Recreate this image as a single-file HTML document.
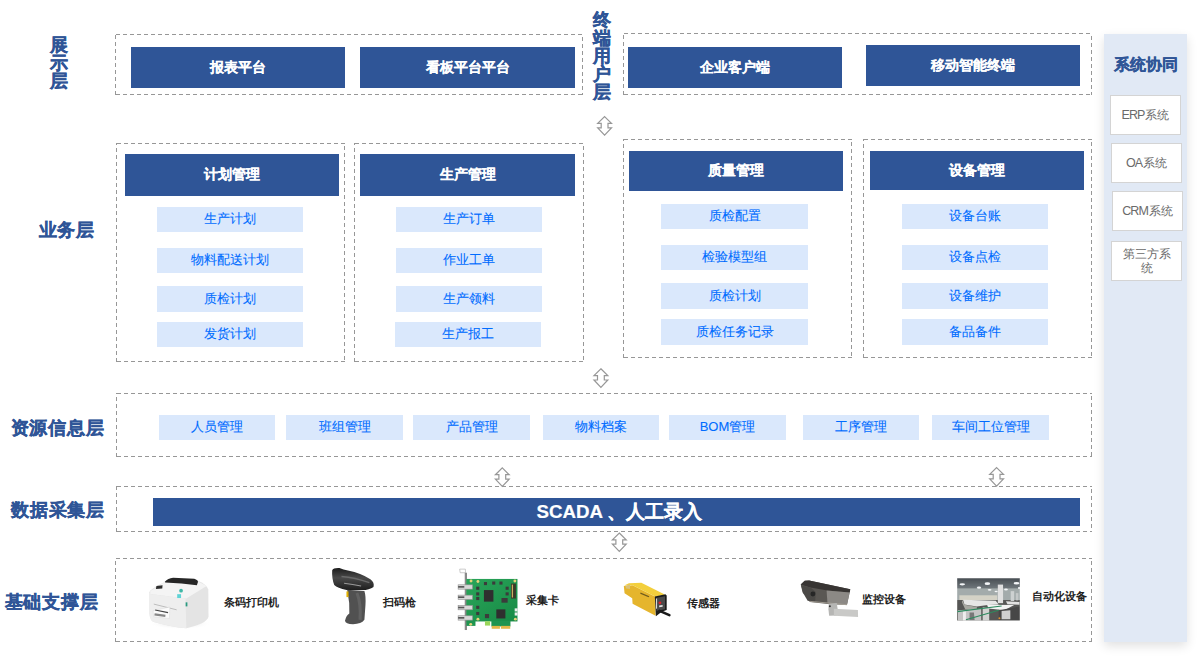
<!DOCTYPE html>
<html><head><meta charset="utf-8">
<style>
html,body{margin:0;padding:0;background:#fff;}
body{width:1203px;height:659px;position:relative;overflow:hidden;font-family:"Liberation Sans",sans-serif;}
div{box-sizing:border-box;}
.a{position:absolute;}
.lbl{position:absolute;color:#2F5597;font-weight:bold;font-size:18px;letter-spacing:0.8px;-webkit-text-stroke:0.35px #2F5597;line-height:19px;white-space:nowrap;}
.vl{position:absolute;color:#2F5597;font-weight:bold;font-size:18px;letter-spacing:0.8px;-webkit-text-stroke:0.35px #2F5597;line-height:18px;width:20px;text-align:center;}
.b{position:absolute;background:#2F5597;color:#fff;font-weight:bold;font-size:14px;-webkit-text-stroke:0.12px #fff;display:flex;align-items:center;justify-content:center;white-space:nowrap;}
.l{position:absolute;padding-bottom:1px;background:#DAE8FC;color:#006CFF;font-size:13px;-webkit-text-stroke:0.1px #006CFF;display:flex;align-items:center;justify-content:center;white-space:nowrap;}
.s{position:absolute;background:#fff;border:1px solid #d4d4d4;color:#6a6a6a;font-size:12px;display:flex;align-items:center;justify-content:center;text-align:center;line-height:14px;}
.t{position:absolute;color:#222;font-weight:bold;font-size:11px;line-height:11px;white-space:nowrap;}
.la{letter-spacing:-0.9px;margin-right:0.9px;font-size:12.5px;}
svg.ar{position:absolute;width:18px;height:22px;overflow:visible;}
</style></head><body>

<svg class="a" style="left:0;top:0;" width="1203" height="659" viewBox="0 0 1203 659">
<defs><path id="arw" d="M0,0.8 L6.9,7.6 L3.4,7.6 L3.4,12 L6.9,12 L0,19.3 L-6.9,12 L-3.4,12 L-3.4,7.6 L-6.9,7.6 Z" fill="none" stroke="#979797" stroke-width="1.2" stroke-linejoin="miter"/></defs>
<g fill="none" stroke="#979797" stroke-width="1" stroke-dasharray="4 3">
<path d="M116,34.5H583M116,94.5H583M115.5,95V34M582.5,37V95M624,33.5H1092M624,94.5H1092M623.5,95V33M1091.5,36V95M117,143.5H345M117,361.5H345M116.5,362V143M344.5,146V362M355,143.5H584M355,361.5H584M354.5,362V143M583.5,146V362M624,139.5H852M624,357.5H852M623.5,358V139M851.5,142V358M864,139.5H1092M864,357.5H1092M863.5,358V139M1091.5,142V358M117,393.5H1092M117,456.5H1092M116.5,457V393M1091.5,396V457M117,486.5H1092M117,531.5H1092M116.5,532V486M1091.5,489V532M116,558.5H1092M116,641.5H1092M115.5,642V558M1091.5,561V642"/>
</g>
<use href="#arw" x="604.6" y="115.8"/>
<use href="#arw" x="600.9" y="368.0"/>
<use href="#arw" x="502.3" y="467.1"/>
<use href="#arw" x="996.6" y="466.8"/>
<use href="#arw" x="619.3" y="532.2"/>
</svg>

<!-- labels -->
<div class="vl" style="left:49px;top:36px;">展<br>示<br>层</div>
<div class="vl" style="left:592px;top:11px;">终<br>端<br>用<br>户<br>层</div>
<div class="lbl" style="left:38.5px;top:221px;">业务层</div>
<div class="lbl" style="left:10.5px;top:419px;">资源信息层</div>
<div class="lbl" style="left:11px;top:501px;">数据采集层</div>
<div class="lbl" style="left:4.5px;top:593px;">基础支撑层</div>

<!-- presentation layer -->
<div class="b" style="left:131px;top:47px;width:214px;height:41px;">报表平台</div>
<div class="b" style="left:360px;top:47px;width:215px;height:41px;">看板平台平台</div>
<div class="b" style="left:628px;top:47px;width:214px;height:41px;">企业客户端</div>
<div class="b" style="left:866px;top:45px;width:214px;height:41px;">移动智能终端</div>

<!-- business layer -->

<div class="b" style="left:125px;top:154px;width:214px;height:42px;">计划管理</div>
<div class="b" style="left:360px;top:154px;width:215px;height:42px;">生产管理</div>
<div class="b" style="left:629px;top:151px;width:214px;height:40px;">质量管理</div>
<div class="b" style="left:870px;top:151px;width:214px;height:39px;">设备管理</div>

<div class="l" style="left:157px;top:207px;width:146px;height:25px;">生产计划</div>
<div class="l" style="left:157px;top:248px;width:146px;height:25px;">物料配送计划</div>
<div class="l" style="left:157px;top:286px;width:146px;height:26px;">质检计划</div>
<div class="l" style="left:157px;top:322px;width:146px;height:25px;">发货计划</div>

<div class="l" style="left:396px;top:207px;width:146px;height:25px;">生产订单</div>
<div class="l" style="left:396px;top:248px;width:146px;height:25px;">作业工单</div>
<div class="l" style="left:396px;top:286px;width:146px;height:26px;">生产领料</div>
<div class="l" style="left:395px;top:322px;width:146px;height:25px;">生产报工</div>

<div class="l" style="left:661px;top:204px;width:147px;height:25px;">质检配置</div>
<div class="l" style="left:661px;top:245px;width:147px;height:25px;">检验模型组</div>
<div class="l" style="left:661px;top:283px;width:147px;height:26px;">质检计划</div>
<div class="l" style="left:661px;top:319px;width:147px;height:26px;">质检任务记录</div>

<div class="l" style="left:902px;top:204px;width:146px;height:25px;">设备台账</div>
<div class="l" style="left:902px;top:245px;width:146px;height:25px;">设备点检</div>
<div class="l" style="left:902px;top:283px;width:146px;height:26px;">设备维护</div>
<div class="l" style="left:902px;top:319px;width:146px;height:26px;">备品备件</div>

<!-- resource layer -->
<div class="l" style="left:159px;top:415px;width:116px;height:25px;">人员管理</div>
<div class="l" style="left:286px;top:415px;width:117px;height:25px;">班组管理</div>
<div class="l" style="left:413px;top:415px;width:117px;height:25px;">产品管理</div>
<div class="l" style="left:543px;top:415px;width:116px;height:25px;">物料档案</div>
<div class="l" style="left:669px;top:415px;width:117px;height:25px;">BOM管理</div>
<div class="l" style="left:803px;top:415px;width:116px;height:25px;">工序管理</div>
<div class="l" style="left:932px;top:415px;width:117px;height:25px;">车间工位管理</div>

<!-- data collection layer -->
<div class="b" style="left:153px;top:498px;width:927px;height:28px;font-size:18.7px;padding-left:6px;-webkit-text-stroke:0.2px #fff;">SCADA 、人工录入</div>

<!-- foundation layer -->
<div class="t" style="left:224px;top:597px;">条码打印机</div>
<div class="t" style="left:383px;top:597px;">扫码枪</div>
<div class="t" style="left:526px;top:595px;">采集卡</div>
<div class="t" style="left:687px;top:598px;">传感器</div>
<div class="t" style="left:862px;top:594px;">监控设备</div>
<div class="t" style="left:1032px;top:591px;">自动化设备</div>

<svg class="a" style="left:0;top:0;" width="1203" height="659" viewBox="0 0 1203 659">
<defs>
<linearGradient id="pcb" x1="0" y1="0" x2="1" y2="1"><stop offset="0" stop-color="#2aa55a"/><stop offset="1" stop-color="#178a45"/></linearGradient>
<linearGradient id="ceil" x1="0" y1="0" x2="0" y2="1"><stop offset="0" stop-color="#3f454b"/><stop offset="1" stop-color="#7b8286"/></linearGradient>
<linearGradient id="scanh" x1="0" y1="0" x2="0" y2="1"><stop offset="0" stop-color="#1c1c1c"/><stop offset="0.45" stop-color="#4a4a4a"/><stop offset="1" stop-color="#1e1e1e"/></linearGradient>
<filter id="phb" x="-5%" y="-5%" width="110%" height="110%"><feGaussianBlur stdDeviation="9"/></filter>
<radialGradient id="psh" cx="0.5" cy="0.5" r="0.5"><stop offset="0" stop-color="#d8d8d8"/><stop offset="1" stop-color="#ffffff" stop-opacity="0"/></radialGradient>
</defs>
<!-- printer -->
<g transform="translate(145,572) scale(0.08795)">
<ellipse cx="400" cy="590" rx="360" ry="60" fill="url(#psh)"/>
<path d="M50,230 Q60,190 230,110 L600,100 Q700,140 720,200 L722,510 Q700,590 470,640 Q300,625 90,565 Q55,540 50,470 Z" fill="#e4e4e4"/>
<path d="M60,215 L230,110 L600,105 L700,160 L470,300 L60,250 Z" fill="#f4f4f4"/>
<path d="M50,250 L460,300 L470,640 Q300,625 90,565 Q55,540 50,470 Z" fill="#eeeeee"/>
<path d="M225,112 Q260,70 320,66 L560,78 Q605,92 602,115 L590,152 Q420,122 230,118 Z" fill="#262626"/>
<path d="M100,365 L360,430" stroke="#a8a8a8" stroke-width="8"/>
<path d="M92,440 L282,398 L278,528 L98,508 Z" fill="#fbfbfb" stroke="#cfcfcf" stroke-width="4"/>
<path d="M115,432 L262,462" stroke="#444" stroke-width="14"/>
<path d="M108,482 L232,500" stroke="#888" stroke-width="26"/>
<path d="M130,160 L200,150 L196,188 L124,192 Z" fill="#2e2e2e"/>
<circle cx="410" cy="212" r="21" fill="#3fb7a6"/>
<rect x="366" y="252" width="44" height="44" fill="#5fd3d6"/>
<rect x="462" y="345" width="20" height="46" fill="#2a9a80"/>
</g>
<!-- scanner -->
<g transform="translate(326,562) scale(0.10325)">
<path d="M60,80 Q70,55 130,58 L170,72 Q350,108 430,168 Q472,200 460,242 Q420,272 350,272 L200,272 Q110,252 80,222 Q55,160 60,80 Z" fill="url(#scanh)"/>
<path d="M150,140 Q280,150 420,200" stroke="#6a6a6a" stroke-width="14" fill="none"/>
<path d="M175,205 Q260,215 340,232" stroke="#9a9a9a" stroke-width="10" fill="none"/>
<path d="M205,268 L372,280 Q388,330 382,420 L372,560 Q342,602 262,602 Q188,598 184,568 Q195,518 226,498 Q232,400 210,300 Z" fill="#515151"/>
<path d="M300,300 Q340,400 330,560" stroke="#626262" stroke-width="30" fill="none"/>
<rect x="198" y="285" width="20" height="55" fill="#e2b000"/>
</g>
<!-- capture card -->
<g transform="translate(454,565) scale(0.1032)">
<path d="M55,40 L110,40 L112,75 L60,75 Z" fill="none" stroke="#aaa" stroke-width="6"/>
<rect x="104" y="75" width="22" height="555" fill="#8a8a8a"/>
<rect x="120" y="135" width="495" height="412" fill="url(#pcb)"/>
<rect x="120" y="540" width="88" height="50" fill="#1f9550"/>
<rect x="362" y="540" width="185" height="55" fill="#1f9550"/>
<rect x="300" y="545" width="50" height="42" fill="#9ad65a"/>
<rect x="365" y="590" width="80" height="28" fill="#e3b84a"/>
<rect x="455" y="590" width="90" height="28" fill="#e3b84a"/>
<g fill="#d8d8d8" stroke="#8f8f8f" stroke-width="6">
<rect x="40" y="192" width="140" height="42"/>
<rect x="40" y="292" width="140" height="42"/>
<rect x="40" y="392" width="140" height="42"/>
<rect x="40" y="492" width="140" height="42"/>
</g>
<g fill="#555">
<rect x="40" y="204" width="60" height="16"/><rect x="40" y="304" width="60" height="16"/><rect x="40" y="404" width="60" height="16"/><rect x="40" y="504" width="60" height="16"/>
</g>
<rect x="290" y="243" width="92" height="112" fill="#2f2f2f"/>
<rect x="410" y="430" width="88" height="88" fill="#2f2f2f"/>
<rect x="552" y="180" width="48" height="145" fill="#3a3a2a"/>
<rect x="560" y="190" width="12" height="125" fill="#c9b060"/>
<g fill="#3b3b3b">
<rect x="215" y="210" width="30" height="30"/><rect x="215" y="265" width="30" height="30"/><rect x="215" y="310" width="30" height="30"/><rect x="215" y="395" width="30" height="30"/><rect x="215" y="455" width="30" height="30"/>
<rect x="290" y="165" width="30" height="30"/><rect x="370" y="160" width="30" height="30"/><rect x="440" y="160" width="30" height="30"/>
<rect x="500" y="210" width="30" height="30"/><rect x="500" y="265" width="30" height="30"/><rect x="300" y="475" width="40" height="40"/><rect x="460" y="320" width="60" height="45"/>
</g>
<rect x="588" y="420" width="28" height="30" fill="#eee"/><rect x="588" y="460" width="28" height="30" fill="#eee"/>
<g fill="#e6d27a"><circle cx="165" cy="155" r="14"/><circle cx="232" cy="160" r="14"/><circle cx="590" cy="155" r="14"/><circle cx="232" cy="525" r="14"/><circle cx="595" cy="525" r="14"/><circle cx="162" cy="575" r="14"/></g>
</g>
<!-- sensor -->
<g transform="translate(618,575) scale(0.07289)">
<path d="M80,150 L200,140 L515,300 L515,560 L200,395 L195,320 L90,252 Z" fill="#e5b52d"/>
<path d="M85,145 L150,112 L320,106 L642,268 L515,300 L200,140 Z" fill="#f3cf3c"/>
<path d="M100,152 L165,128 L165,192 L112,185 Z" fill="#d9c27a"/>
<path d="M310,240 L430,292 L420,305 L305,258 Z" fill="#6e5b1e"/>
<path d="M505,295 L650,265 L668,282 L668,480 L600,505 L520,566 Z" fill="#1b1b1b"/>
<path d="M528,312 L645,290 L645,470 L528,490 Z" fill="#4a4a4a"/>
<rect x="520" y="322" width="16" height="140" fill="#d8d8d8"/>
<circle cx="575" cy="382" r="19" fill="#e21f2a"/>
<path d="M565,420 L612,412 L612,436 L565,444 Z" fill="#e8e8e8"/>
<path d="M570,492 L705,550" stroke="#1a1a1a" stroke-width="36" stroke-linecap="round"/>
</g>
<!-- camera -->
<g transform="translate(796,575) scale(0.07285)">
<path d="M65,130 L120,80 L180,75 L745,195 L735,240 L700,410 L470,400 L190,372 L150,300 L90,240 Z" fill="#5a5753"/>
<path d="M65,130 L120,80 L180,75 L745,195 L738,240 L430,214 L200,170 Z" fill="#383533"/>
<path d="M420,214 L738,240 L700,410 L432,392 Z" fill="#8c8985"/>
<path d="M70,140 L200,172 L272,232 L262,372 L160,352 L100,252 Z" fill="#4b4946"/>
<circle cx="232" cy="262" r="34" fill="#262626"/>
<path d="M190,362 L700,408" stroke="#a8a298" stroke-width="12"/>
<path d="M450,395 L560,385 L570,455 L560,555 L455,560 L445,470 Z" fill="#b6b6b4"/>
<path d="M520,462 L850,482 L852,575 L520,560 Z" fill="#c9c9c7"/>
<circle cx="465" cy="428" r="14" fill="#333"/>
</g>
<!-- automation photo -->
<g transform="translate(955,576) scale(0.07281)">
<clipPath id="phc"><rect x="30" y="30" width="860" height="580"/></clipPath>
<g clip-path="url(#phc)"><g filter="url(#phb)">
<rect x="0" y="0" width="920" height="640" fill="#6b7175"/>
<rect x="0" y="0" width="920" height="210" fill="url(#ceil)"/>
<rect x="0" y="170" width="920" height="170" fill="#a3abab"/>
<g fill="#f4f6f8"><ellipse cx="100" cy="115" rx="38" ry="16"/><ellipse cx="445" cy="105" rx="38" ry="18"/><ellipse cx="330" cy="160" rx="30" ry="15"/><ellipse cx="475" cy="190" rx="26" ry="13"/><ellipse cx="565" cy="212" rx="22" ry="11"/><ellipse cx="700" cy="185" rx="26" ry="13"/><ellipse cx="845" cy="100" rx="40" ry="17"/><ellipse cx="880" cy="165" rx="16" ry="13"/></g>
<rect x="60" y="265" width="520" height="65" fill="#d4d2c6"/>
<rect x="0" y="330" width="920" height="310" fill="#575755"/>
<rect x="588" y="118" width="72" height="255" fill="#e0e0e0"/>
<rect x="765" y="208" width="48" height="135" fill="#cdd1d1"/>
<rect x="835" y="235" width="36" height="100" fill="#c4c8c8"/>
<path d="M100,330 L130,395 L300,425 L300,480 L140,455 L95,360 Z" fill="#a8a8a2"/>
<path d="M110,325 L560,340 L600,390 L450,400 L300,420 L130,390 Z" fill="#e6e6e6"/>
<path d="M440,395 L812,400 L680,472 L460,445 Z" fill="#f2f2f2"/>
<path d="M700,348 L885,358 L885,395 L720,388 Z" fill="#e2e2e2"/>
<path d="M40,470 L360,450 L360,610 L40,610 Z" fill="#c4c4c4"/>
<path d="M110,480 L150,480 L150,610 L110,610 Z" fill="#eeeeee"/>
<path d="M200,500 L260,500 L270,610 L200,610 Z" fill="#777"/>
<path d="M380,430 L470,440 L470,610 L380,610 Z" fill="#d2d2d2"/>
<path d="M600,470 L890,420 L890,610 L600,610 Z" fill="#474747"/>
<path d="M640,480 L760,470 L760,595 L640,595 Z" fill="#d0d0d0"/>
<path d="M30,490 L640,412" stroke="#2c8a5e" stroke-width="16"/>
<path d="M150,600 L600,470" stroke="#2c8a5e" stroke-width="14"/>
<circle cx="610" cy="580" r="14" fill="#e09030"/>
</g></g>
</g>
</svg>

<!-- sidebar -->
<div class="a" style="left:1104px;top:34px;width:83px;height:608px;background:#E1E9F5;box-shadow:0 4px 10px rgba(0,0,0,0.12);"></div>
<div class="a" style="left:1104px;top:55px;width:83px;text-align:center;color:#2F5597;font-weight:bold;font-size:16px;line-height:20px;-webkit-text-stroke:0.25px #2F5597;">系统协同</div>
<div class="s" style="left:1110px;top:95px;width:71px;height:40px;"><span class="la">ERP</span>系统</div>
<div class="s" style="left:1111px;top:143px;width:71px;height:40px;"><span class="la">OA</span>系统</div>
<div class="s" style="left:1112px;top:191px;width:71px;height:40px;"><span class="la">CRM</span>系统</div>
<div class="s" style="left:1111px;top:241px;width:71px;height:40px;">第三方系<br>统</div>

</body></html>
